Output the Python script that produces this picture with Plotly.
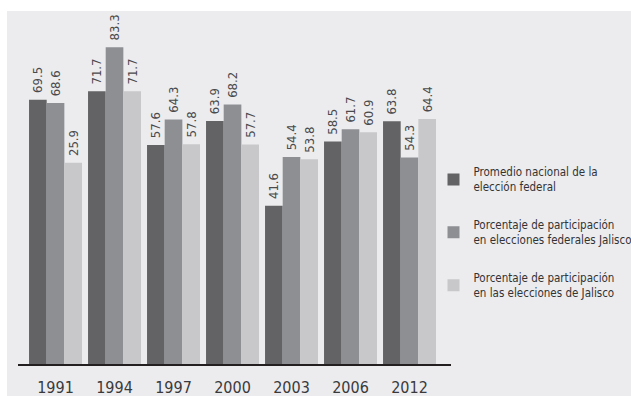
import plotly.graph_objects as go

years = ["1991", "1994", "1997", "2000", "2003", "2006", "2012"]
nacional = [69.5, 71.7, 57.6, 63.9, 41.6, 58.5, 63.8]
federales_jalisco = [68.6, 83.3, 64.3, 68.2, 54.4, 61.7, 54.3]
# bar heights as drawn in the picture (the 1991 bar is drawn near 52.9 though labelled 25.9)
locales_jalisco = [52.9, 71.7, 57.8, 57.7, 53.8, 60.9, 64.4]
locales_labels = ["25.9", "71.7", "57.8", "57.7", "53.8", "60.9", "64.4"]

names = [
    "Promedio nacional de la<br>elección federal",
    "Porcentaje de participación<br>en elecciones federales Jalisco",
    "Porcentaje de participación<br>en las elecciones de Jalisco",
]
colors = ["#636366", "#8e8f93", "#c8c8cb"]
FONT = "Liberation Sans Narrow, DejaVu Sans Condensed, Arial Narrow, sans-serif"

series = [
    (nacional, [f"{v:.1f}" for v in nacional]),
    (federales_jalisco, [f"{v:.1f}" for v in federales_jalisco]),
    (locales_jalisco, locales_labels),
]

fig = go.Figure()
for i, ((vals, labels), name, col) in enumerate(zip(series, names, colors)):
    fig.add_trace(go.Bar(
        x=years, y=vals, name=name, legendgroup=f"g{i}",
        marker=dict(color=col, line=dict(width=0)),
        text=["\u00a0" + t for t in labels], textposition="outside", textangle=-90,
        textfont=dict(family=FONT, size=13, color="#4a4a4c"),
        cliponaxis=False, constraintext="none",
    ))

W, H = 631, 396
L, R, T, B = 18, 180, 11, 32
pw, ph = W - L - R, H - T - B

fig.update_layout(
    width=W, height=H,
    margin=dict(l=L, r=R, t=T, b=B, pad=0, autoexpand=False),
    paper_bgcolor="white", plot_bgcolor="rgba(0,0,0,0)",
    barmode="group", bargap=0.102, bargroupgap=0,
    font=dict(family=FONT, color="#3a3a3c"),
    showlegend=True,
    legend=dict(
        x=(433.5 - L) / pw, y=1 - (158 - T) / ph, xanchor="left", yanchor="top",
        bgcolor="rgba(0,0,0,0)", borderwidth=0,
        font=dict(family=FONT, size=11.5, color="#333335"),
        tracegroupgap=20, traceorder="grouped", valign="middle",
    ),
    shapes=[dict(
        type="rect", xref="paper", yref="paper", layer="below",
        x0=(7 - L) / pw, x1=(W - L) / pw + 0.01, y0=-(B + 2) / ph, y1=1.0,
        fillcolor="#ececee", line=dict(width=0),
    )],
)
fig.update_xaxes(
    type="category", range=[-0.636, 6.703],
    showline=True, linecolor="#231f20", linewidth=2,
    ticks="outside", ticklen=8, tickcolor="rgba(0,0,0,0)",
    tickfont=dict(family=FONT, size=16, color="#3a3a3c"),
    showgrid=False, zeroline=False,
)
fig.update_yaxes(
    range=[0, 92.8], visible=False, showgrid=False, zeroline=False,
)

fig.write_html("out.html", config={"displayModeBar": False},
               post_script="document.body.style.margin='0px';")
